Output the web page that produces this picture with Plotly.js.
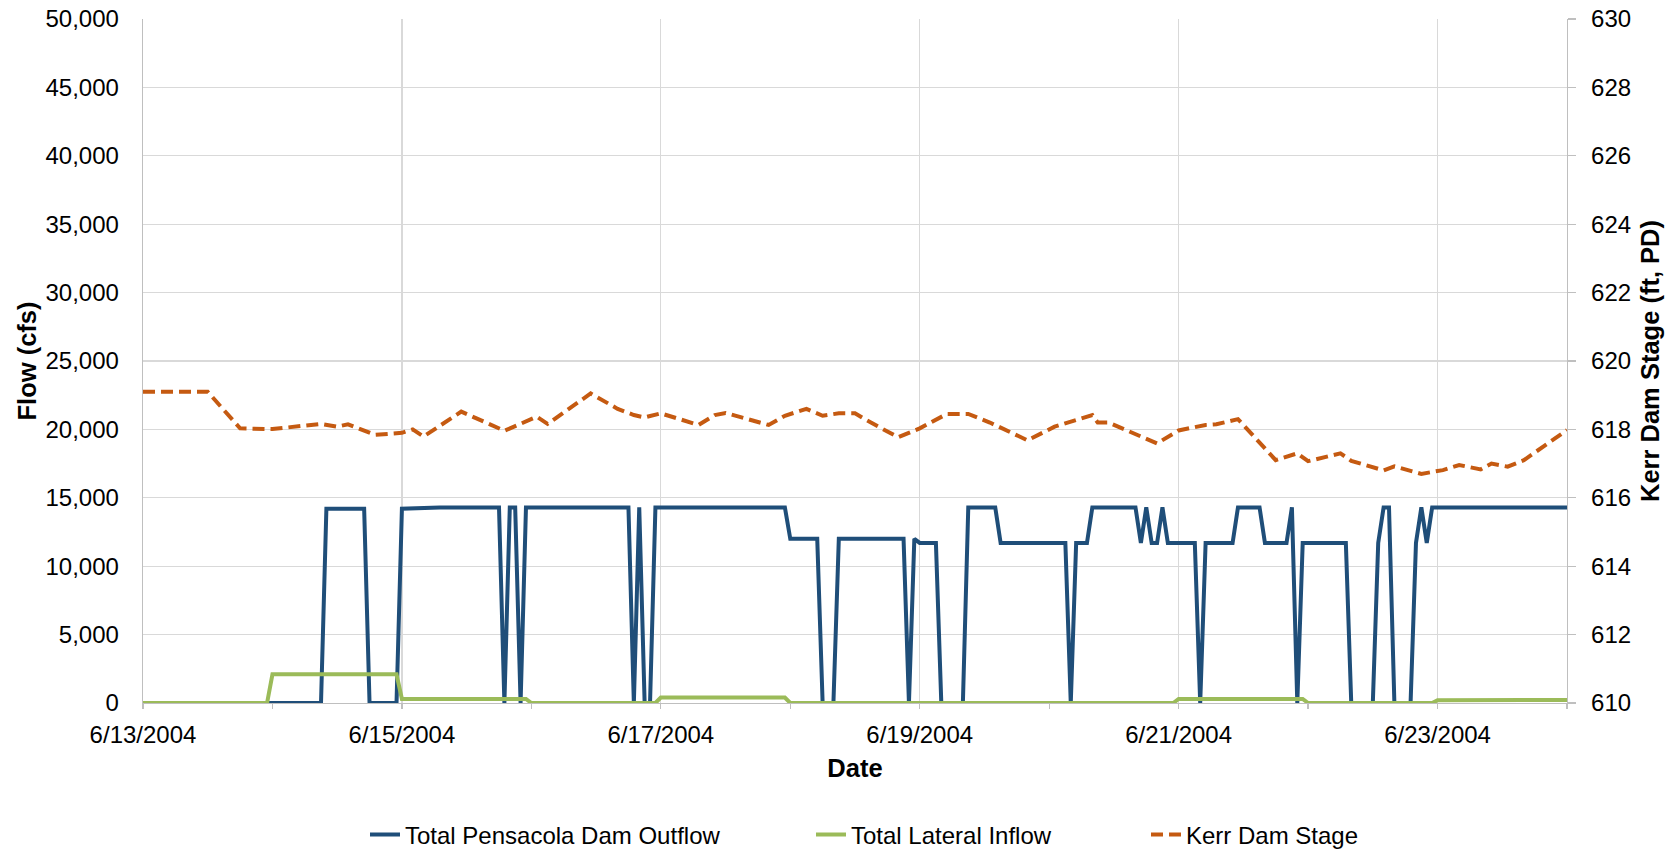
<!DOCTYPE html>
<html>
<head>
<meta charset="utf-8">
<script src="https://cdn.plot.ly/plotly-3.0.1.min.js"></script>
<style>
  html, body { margin: 0; padding: 0; background: #ffffff; }
  #chart { width: 1677px; height: 851px; }
</style>
</head>
<body>
<div id="chart"></div>
<script>
// ---- Data ----
const outflowTimes = [
  "2004-06-13 00:00","2004-06-14 09:00","2004-06-14 10:00","2004-06-14 17:00","2004-06-14 18:00",
  "2004-06-14 23:00","2004-06-15 00:00","2004-06-15 07:00","2004-06-15 18:00","2004-06-15 19:00",
  "2004-06-15 20:00","2004-06-15 21:00","2004-06-15 22:00","2004-06-15 23:00","2004-06-16 18:00",
  "2004-06-16 19:00","2004-06-16 20:00","2004-06-16 21:00","2004-06-16 22:00","2004-06-16 23:00",
  "2004-06-17 23:00","2004-06-18 00:00","2004-06-18 05:00","2004-06-18 06:00","2004-06-18 08:00",
  "2004-06-18 09:00","2004-06-18 21:00","2004-06-18 22:00","2004-06-18 23:00","2004-06-19 00:00",
  "2004-06-19 03:00","2004-06-19 04:00","2004-06-19 08:00","2004-06-19 09:00","2004-06-19 14:00",
  "2004-06-19 15:00","2004-06-20 03:00","2004-06-20 04:00","2004-06-20 05:00","2004-06-20 07:00",
  "2004-06-20 08:00","2004-06-20 16:00","2004-06-20 17:00","2004-06-20 18:00","2004-06-20 19:00",
  "2004-06-20 20:00","2004-06-20 21:00","2004-06-20 22:00","2004-06-21 03:00","2004-06-21 04:00",
  "2004-06-21 05:00","2004-06-21 10:00","2004-06-21 11:00","2004-06-21 15:00","2004-06-21 16:00",
  "2004-06-21 20:00","2004-06-21 21:00","2004-06-21 22:00","2004-06-21 23:00","2004-06-22 07:00",
  "2004-06-22 08:00","2004-06-22 12:00","2004-06-22 13:00","2004-06-22 14:00","2004-06-22 15:00",
  "2004-06-22 16:00","2004-06-22 19:00","2004-06-22 20:00","2004-06-22 21:00","2004-06-22 22:00",
  "2004-06-22 23:00","2004-06-24 00:00"
];
const outflowValues = [
  0, 0, 14200, 14200, 0,
  0, 14200, 14300, 14300, 0,
  14300, 14300, 0, 14300, 14300,
  0, 14300, 0, 0, 14300,
  14300, 12000, 12000, 0, 0,
  12000, 12000, 0, 12000, 11700,
  11700, 0, 0, 14300, 14300,
  11700, 11700, 0, 11700, 11700,
  14300, 14300, 11700, 14300, 11700,
  11700, 14300, 11700, 11700, 0,
  11700, 11700, 14300, 14300, 11700,
  11700, 14300, 0, 11700, 11700,
  0, 0, 11700, 14300, 14300,
  0, 0, 11700, 14300, 11700,
  14300, 14300
];

const inflowTimes = [
  "2004-06-13 00:00","2004-06-13 23:00","2004-06-14 00:00","2004-06-14 23:00","2004-06-15 00:00",
  "2004-06-15 23:00","2004-06-16 00:00","2004-06-16 23:00","2004-06-17 00:00","2004-06-17 23:00",
  "2004-06-18 00:00","2004-06-20 23:00","2004-06-21 00:00","2004-06-21 23:00","2004-06-22 00:00",
  "2004-06-22 23:00","2004-06-23 00:00","2004-06-24 00:00"
];
const inflowValues = [
  0, 0, 2100, 2100, 300,
  300, 0, 0, 400, 400,
  0, 0, 300, 300, 0,
  0, 200, 220
];

const stageTimes = [
  "2004-06-13 00:00","2004-06-13 12:00","2004-06-13 18:00","2004-06-14 00:00","2004-06-14 09:00",
  "2004-06-14 12:00","2004-06-14 14:00","2004-06-14 19:00","2004-06-15 00:00","2004-06-15 02:00",
  "2004-06-15 04:00","2004-06-15 11:00","2004-06-15 19:00","2004-06-16 01:00","2004-06-16 03:00",
  "2004-06-16 11:00","2004-06-16 16:00","2004-06-16 19:00","2004-06-16 21:00","2004-06-17 00:00",
  "2004-06-17 07:00","2004-06-17 10:00","2004-06-17 12:00","2004-06-17 20:00","2004-06-17 23:00",
  "2004-06-18 03:00","2004-06-18 06:00","2004-06-18 09:00","2004-06-18 12:00","2004-06-18 14:00",
  "2004-06-18 20:00","2004-06-19 00:00","2004-06-19 05:00","2004-06-19 09:00","2004-06-19 13:00",
  "2004-06-19 20:00","2004-06-20 01:00","2004-06-20 05:00","2004-06-20 08:00","2004-06-20 09:00",
  "2004-06-20 11:00","2004-06-20 20:00","2004-06-21 00:00","2004-06-21 05:00","2004-06-21 07:00",
  "2004-06-21 11:00","2004-06-21 18:00","2004-06-21 22:00","2004-06-22 00:00","2004-06-22 06:00",
  "2004-06-22 08:00","2004-06-22 14:00","2004-06-22 16:00","2004-06-22 21:00","2004-06-23 01:00",
  "2004-06-23 04:00","2004-06-23 08:00","2004-06-23 10:00","2004-06-23 13:00","2004-06-23 16:00",
  "2004-06-24 00:00"
];
const stageValues = [
  619.1, 619.1, 618.03, 618.01, 618.16,
  618.08, 618.15, 617.84, 617.9, 618.0,
  617.79, 618.52, 617.96, 618.37, 618.16,
  619.05, 618.6, 618.42, 618.35, 618.47,
  618.13, 618.42, 618.48, 618.13, 618.4,
  618.6, 618.4, 618.47, 618.47, 618.28,
  617.77, 618.03, 618.45, 618.45, 618.2,
  617.68, 618.08, 618.27, 618.42, 618.2,
  618.2, 617.59, 617.97, 618.13, 618.15,
  618.3, 617.1, 617.3, 617.07, 617.3,
  617.08, 616.8, 616.92, 616.7, 616.81,
  616.96, 616.83, 617.0, 616.91, 617.1,
  617.98
];

const seriesNames = ["Total Pensacola Dam Outflow", "Total Lateral Inflow", "Kerr Dam Stage"];
const xTitle = "Date";
const yTitle = "Flow (cfs)";
const y2Title = "Kerr Dam Stage (ft, PD)";

// ---- Styling ----
const FONT = "Liberation Sans, Arial, Helvetica, sans-serif";
const GRID = "#d9d9d9";
const AXIS = "#bfbfbf";
const W = 1677, H = 851;
const TICK_SIZE = 24;
const TITLE_SIZE = 25.5;

const traces = [
  {
    x: outflowTimes, y: outflowValues, name: seriesNames[0], type: "scatter", mode: "lines",
    line: { color: "#1F4E79", width: 4 }, legend: "legend", yaxis: "y"
  },
  {
    x: inflowTimes, y: inflowValues, name: seriesNames[1], type: "scatter", mode: "lines",
    line: { color: "#9BBB59", width: 4 }, legend: "legend2", yaxis: "y"
  },
  {
    x: stageTimes, y: stageValues, name: seriesNames[2], type: "scatter", mode: "lines",
    line: { color: "#C55A11", width: 4, dash: "12px,6px" }, legend: "legend3", yaxis: "y2"
  }
];

function legendAt(px) {
  return {
    x: px / W, xref: "container", xanchor: "left",
    y: 1 - 835 / H, yref: "container", yanchor: "middle",
    orientation: "h", bgcolor: "rgba(0,0,0,0)", borderwidth: 0,
    font: { family: FONT, size: TICK_SIZE, color: "#000000" }
  };
}

const layout = {
  width: W, height: H,
  paper_bgcolor: "#ffffff", plot_bgcolor: "#ffffff",
  margin: { l: 143, r: 110, t: 19, b: 148, pad: 0 },
  font: { family: FONT, size: TICK_SIZE, color: "#000000" },
  showlegend: true,
  legend: legendAt(365),
  legend2: legendAt(811),
  legend3: legendAt(1146),
  xaxis: {
    type: "date",
    range: ["2004-06-13 00:00", "2004-06-24 00:00"],
    tick0: "2004-06-13", dtick: 2 * 86400000,
    tickformat: "%-m/%-d/%Y",
    showgrid: true, gridcolor: GRID, gridwidth: 1.3,
    showline: true, linecolor: AXIS, linewidth: 1.3,
    ticks: "outside", ticklen: 5, tickcolor: AXIS, tickwidth: 1.3,
    minor: { dtick: 86400000, tick0: "2004-06-13", ticks: "outside", ticklen: 5, tickcolor: AXIS, tickwidth: 1.3, showgrid: false },
    ticklabelstandoff: 5,
    tickfont: { family: FONT, size: TICK_SIZE, color: "#000000" },
    title: { text: xTitle, font: { family: FONT, size: TITLE_SIZE, color: "#000000", weight: "bold" }, standoff: 12 },
    zeroline: false, automargin: false, fixedrange: true
  },
  yaxis: {
    range: [0, 50000], dtick: 5000, tick0: 0,
    tickformat: ",d",
    showgrid: true, gridcolor: GRID, gridwidth: 1.3,
    showline: true, linecolor: AXIS, linewidth: 1.3,
    ticks: "", ticklabelstandoff: 18,
    tickfont: { family: FONT, size: TICK_SIZE, color: "#000000" },
    title: { text: yTitle, font: { family: FONT, size: TITLE_SIZE, color: "#000000", weight: "bold" }, standoff: 1 },
    zeroline: false, automargin: false, fixedrange: true
  },
  yaxis2: {
    overlaying: "y", side: "right",
    range: [610, 630], dtick: 2, tick0: 610,
    showgrid: false,
    showline: true, linecolor: AXIS, linewidth: 1.3,
    ticks: "outside", ticklen: 8, tickcolor: AXIS, tickwidth: 1.3,
    ticklabelstandoff: 10,
    tickfont: { family: FONT, size: TICK_SIZE, color: "#000000" },
    title: { text: y2Title, font: { family: FONT, size: TITLE_SIZE, color: "#000000", weight: "bold" }, standoff: 11 },
    zeroline: false, automargin: false, fixedrange: true
  }
};

Plotly.newPlot("chart", traces, layout, { displayModeBar: false, staticPlot: true });
</script>
</body>
</html>
